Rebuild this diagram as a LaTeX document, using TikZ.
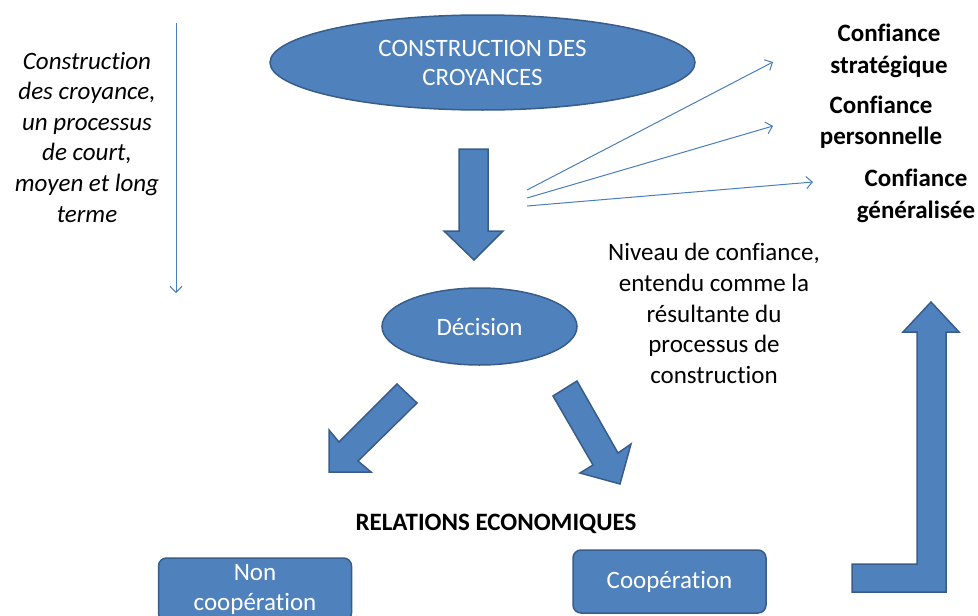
\documentclass[tikz,border=0pt]{standalone}
\usepackage{fontspec}
\setmainfont{Carlito}[Ligatures={NoCommon}]
\usetikzlibrary{shapes.geometric,arrows.meta}
\definecolor{fillblue}{HTML}{4F81BD}
\definecolor{edgeblue}{HTML}{385D8A}
\definecolor{thinblue}{HTML}{4A7EBB}
\begin{document}
\begin{tikzpicture}[x=1pt,y=-1pt,
  txt/.style={font=\fontsize{25}{30.6}\selectfont, align=center, inner sep=0pt},
  boldtxt/.style={txt, font=\fontsize{25}{31.5}\selectfont\bfseries},
  blob/.style={ellipse, draw=edgeblue, fill=fillblue, line width=1.5pt, inner sep=0pt, text=white,
               font=\fontsize{25}{29}\selectfont, align=center},
  roundbox/.style={rectangle, rounded corners=8pt, draw=edgeblue, fill=fillblue, line width=1.5pt,
               inner sep=0pt, text=white, font=\fontsize{25}{30}\selectfont, align=center,
               minimum width=193pt, minimum height=63pt},
  blockarrow/.style={draw=edgeblue, fill=fillblue, line width=1.5pt, line join=miter},
  thinarrow/.style={draw=thinblue, line width=1pt, -{Straight Barb[length=6pt,width=12pt]}}
]
\useasboundingbox (0,0) rectangle (978,616);

% main shapes
\node[blob, minimum width=425pt, minimum height=95pt] (cons) at (482.5,62.5) {CONSTRUCTION DES\\CROYANCES};
\node[blob, minimum width=195pt, minimum height=77pt] (dec) at (479.5,326.5) {Décision};
\node[roundbox] (noncoop) at (255,589.5) {Non\\coopération};
\node[roundbox] (coop) at (669.5,581.5) {Coopération};

% block arrows
\path[blockarrow] (459,149) -- (488,149) -- (488,231) -- (503,231) -- (474,260) -- (444,231) -- (459,231) -- cycle;
\path[blockarrow] (397,384) -- (417,403) -- (358,461) -- (371,472) -- (329,472) -- (329,430) -- (339,442) -- cycle;
\path[blockarrow] (553,396) -- (577,381) -- (618,453) -- (631,444) -- (620,484) -- (580,473) -- (593,465) -- cycle;
\path[blockarrow] (852,564) -- (917,564) -- (917,332) -- (903,332) -- (931,302) -- (959,332) -- (946,332) -- (946,592) -- (852,592) -- cycle;

% texts
\node[txt, font=\fontsize{25}{30.6}\selectfont\itshape] (note) at (87,137)
  {Construction\\des croyance,\\un processus\\de court,\\moyen et long\\terme};
\node[boldtxt] (strat) at (889,51) {Confiance\\stratégique};
\node[boldtxt] (perso) at (881,122) {Confiance\\personnelle};
\node[boldtxt] (gener) at (916,196) {Confiance\\généralisée};
\node[txt] (niveau) at (714,313.5) {Niveau de confiance,\\entendu comme la\\résultante du\\processus de\\construction};
\node[boldtxt] (relations) at (496,524) {RELATIONS ECONOMIQUES};

% thin arrows
\coordinate (vtop) at (176,23);
\coordinate (vbot) at (176,293);
\draw[thinarrow] (vtop) -- (vbot);
\coordinate (s1) at (527,190);
\coordinate (s2) at (527,198);
\coordinate (s3) at (527,206);
\coordinate (e1) at (773,62);
\coordinate (e2) at (773,126);
\coordinate (e3) at (813,182);
\draw[thinarrow] (s1) -- (e1);
\draw[thinarrow] (s2) -- (e2);
\draw[thinarrow] (s3) -- (e3);
\end{tikzpicture}
\end{document}
